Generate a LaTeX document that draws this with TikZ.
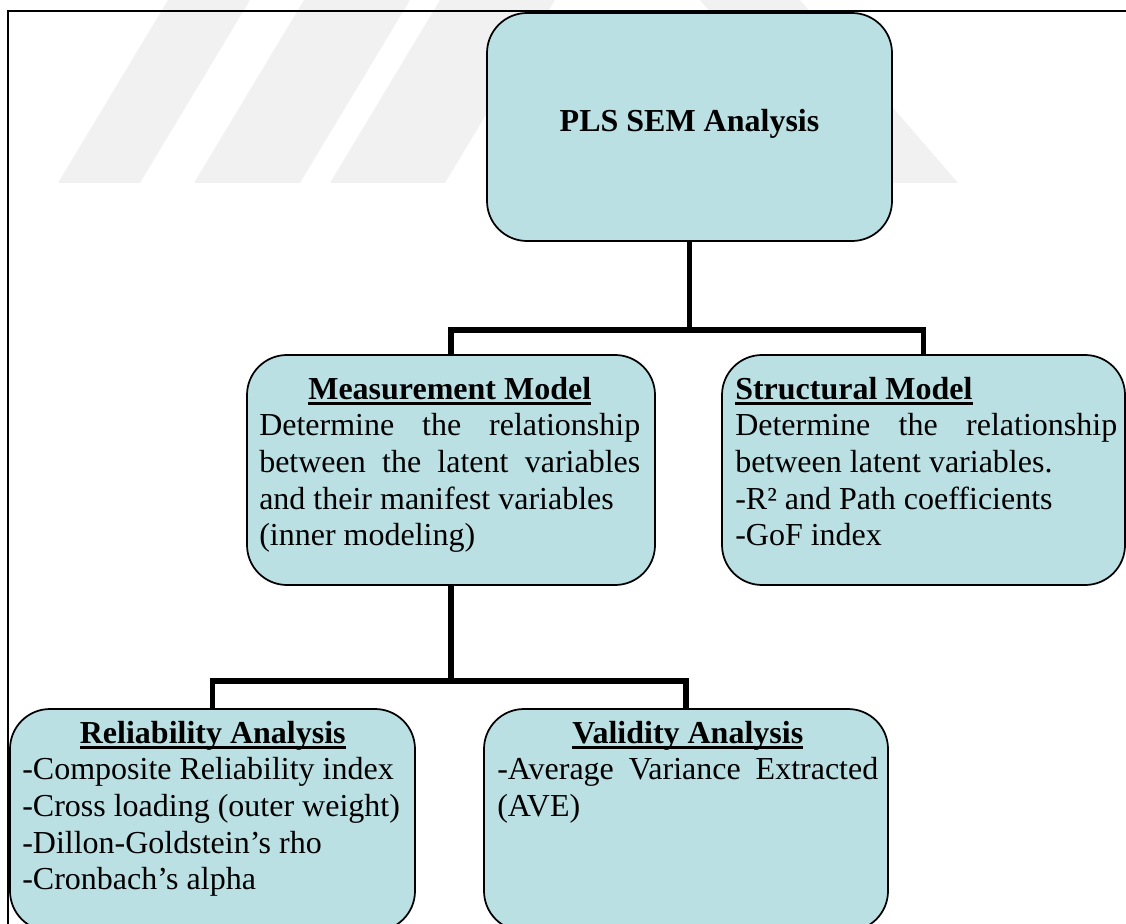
\documentclass[tikz,border=0pt]{standalone}
\usepackage{fontspec}
\setmainfont{Liberation Serif}
\definecolor{boxfill}{RGB}{187,224,227}
\definecolor{logogray}{RGB}{241,241,241}
\newlength{\linew}
\setlength{\linew}{285.75pt}
% bold heading with a fixed-depth underline
\newcommand{\hdr}[1]{\setbox0\hbox{\bfseries #1}\rlap{\rule[-4pt]{\wd0}{1.8pt}}\box0}
% a fully justified line
\newcommand{\jline}[1]{\makebox[\linew][s]{#1}}
\begin{document}
\begin{tikzpicture}[x=0.75pt,y=-0.75pt,
  box/.style={draw=black, line width=1.3pt, fill=boxfill, rounded corners=30pt, inner sep=0pt},
  conn/.style={line width=3.8pt, line join=miter},
  txt/.style={inner sep=0pt, align=left, font=\fontsize{24}{27.5}\selectfont, anchor=north west},
  logobar/.style={fill=logogray, draw=none}]
\useasboundingbox (0,0) rectangle (1126,923);
\clip (0,0) rectangle (1126,923);

% faint background logo: slanted bars cut off by a level bottom edge
\fill[logobar] (58,183) -- (140,183) -- (250,0) -- (168,0) -- cycle;
\fill[logobar] (194,183) -- (300,183) -- (410,0) -- (304,0) -- cycle;
\fill[logobar] (330,183) -- (445,183) -- (555,0) -- (440,0) -- cycle;
\fill[logobar] (700,0) -- (800,0) -- (958,183) -- (858,183) -- cycle;

% frame
\draw[line width=1.5pt] (8,940) -- (8,11) -- (1140,11);

% boxes
\node[box, minimum width=303.75pt, minimum height=171pt] (top) at (689.5,127) {};
\node[box, minimum width=306pt, minimum height=172.5pt] (meas) at (451,470) {};
\node[box, minimum width=302.25pt, minimum height=172.5pt] (struct) at (923.5,470) {};
\node[box, minimum width=303.75pt, minimum height=166.5pt] (rel) at (212.5,820) {};
\node[box, minimum width=303pt, minimum height=166.5pt] (val) at (686,820) {};

% connectors
\coordinate (j1) at (689.5,330);
\coordinate (j2) at (451,681);
\draw[conn] (top.south) -- (j1);
\draw[conn] (meas.north) |- (j1) -| (struct.north);
\draw[conn] (meas.south) -- (j2);
\draw[conn] (rel.north) |- (j2) -| (val.north);

% texts
\node[inner sep=0pt, font=\fontsize{24}{27.5}\selectfont\bfseries, anchor=base] (toptext) at (689.5,132) {PLS SEM Analysis};

\node[txt] (meastext) at (259,373.3) {\strut\makebox[\linew][c]{\hdr{Measurement Model}}\\
\jline{Determine the relationship}\\
\jline{between the latent variables}\\
and their manifest variables\\
(inner modeling)};

\node[txt] (structtext) at (735,373.3) {\strut\hdr{Structural Model}\\
\makebox[286.5pt][s]{Determine the relationship}\\
between latent variables.\\
-R² and Path coefficients\\
-GoF index};

\node[txt] (reltext) at (22,717.3) {\strut\makebox[\linew][c]{\hdr{Reliability Analysis}}\\
-Composite Reliability index\\
-Cross loading (outer weight)\\
-Dillon-Goldstein’s rho\\
-Cronbach’s alpha};

\node[txt] (valtext) at (497,717.3) {\strut\makebox[\linew][c]{\hdr{Validity Analysis}}\\
\jline{-Average Variance Extracted}\\
(AVE)};
\end{tikzpicture}
\end{document}
